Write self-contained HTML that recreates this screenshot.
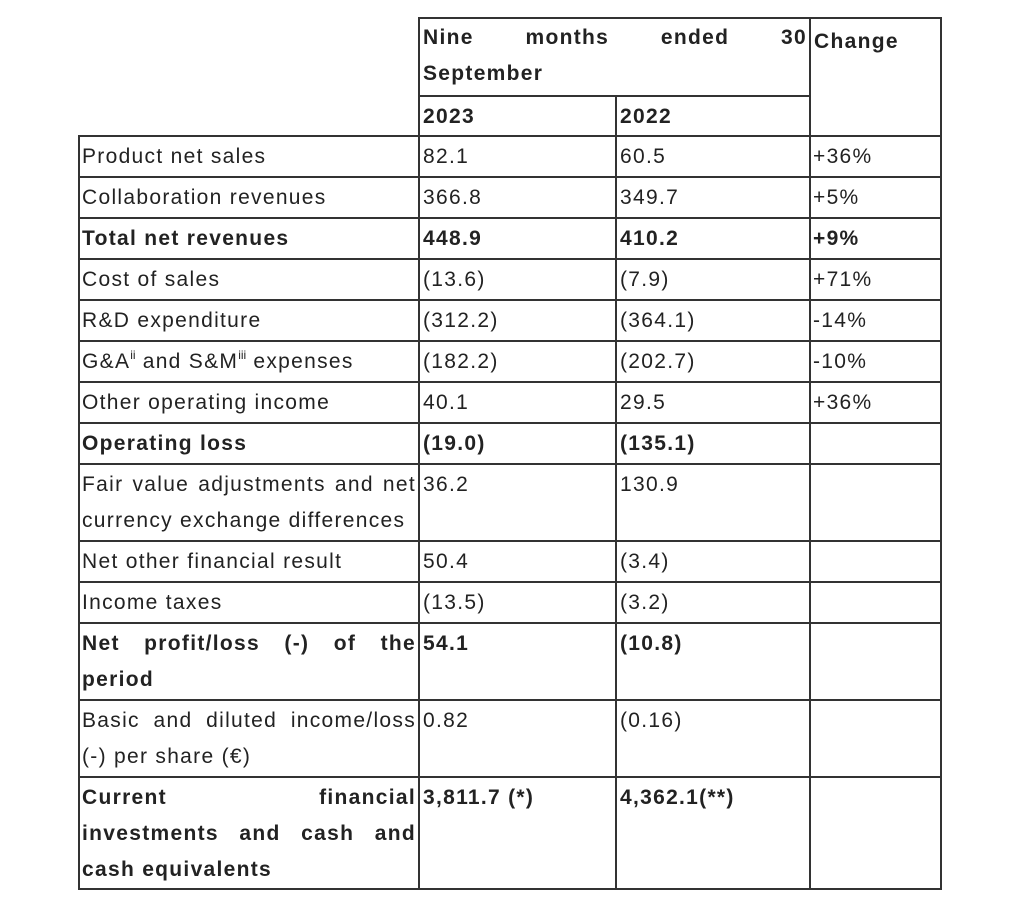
<!DOCTYPE html>
<html><head><meta charset="utf-8"><style>
html,body{margin:0;padding:0;background:#fff;width:1020px;height:912px;overflow:hidden}
body{position:relative;font-family:"Liberation Sans",Arial,sans-serif;font-size:21px;color:#222;letter-spacing:1.3px}
.l{position:absolute;background:#333}
.c{position:absolute;line-height:36px;box-sizing:border-box;padding-top:4px;white-space:nowrap}
.j{text-align:justify;text-align-last:justify;white-space:normal}
.b{font-weight:bold}
sup{font-size:12px;line-height:0;vertical-align:9px;letter-spacing:0}
</style></head><body>
<div class="l" style="left:78px;top:135px;width:2px;height:755px"></div>
<div class="l" style="left:418px;top:17px;width:2px;height:873px"></div>
<div class="l" style="left:615px;top:95px;width:2px;height:795px"></div>
<div class="l" style="left:809px;top:17px;width:2px;height:873px"></div>
<div class="l" style="left:940px;top:17px;width:2px;height:873px"></div>
<div class="l" style="left:418px;top:17px;width:524px;height:2px"></div>
<div class="l" style="left:418px;top:95px;width:393px;height:2px"></div>
<div class="l" style="left:78px;top:135px;width:864px;height:2px"></div>
<div class="l" style="left:78px;top:176px;width:864px;height:2px"></div>
<div class="l" style="left:78px;top:217px;width:864px;height:2px"></div>
<div class="l" style="left:78px;top:258px;width:864px;height:2px"></div>
<div class="l" style="left:78px;top:299px;width:864px;height:2px"></div>
<div class="l" style="left:78px;top:340px;width:864px;height:2px"></div>
<div class="l" style="left:78px;top:381px;width:864px;height:2px"></div>
<div class="l" style="left:78px;top:422px;width:864px;height:2px"></div>
<div class="l" style="left:78px;top:463px;width:864px;height:2px"></div>
<div class="l" style="left:78px;top:540px;width:864px;height:2px"></div>
<div class="l" style="left:78px;top:581px;width:864px;height:2px"></div>
<div class="l" style="left:78px;top:622px;width:864px;height:2px"></div>
<div class="l" style="left:78px;top:699px;width:864px;height:2px"></div>
<div class="l" style="left:78px;top:776px;width:864px;height:2px"></div>
<div class="l" style="left:78px;top:888px;width:864px;height:2px"></div>

<div class="c b j" style="left:423px;top:16px;width:384px">Nine months ended 30</div>
<div class="c b" style="left:423px;top:52px">September</div>
<div class="c b" style="left:814px;top:20px">Change</div>
<div class="c b" style="left:423px;top:95px">2023</div>
<div class="c b" style="left:620px;top:95px">2022</div>

<div class="c" style="left:82px;top:135px">Product net sales</div>
<div class="c" style="left:423px;top:135px">82.1</div>
<div class="c" style="left:620px;top:135px">60.5</div>
<div class="c" style="left:813px;top:135px">+36%</div>

<div class="c" style="left:82px;top:176px">Collaboration revenues</div>
<div class="c" style="left:423px;top:176px">366.8</div>
<div class="c" style="left:620px;top:176px">349.7</div>
<div class="c" style="left:813px;top:176px">+5%</div>

<div class="c b" style="left:82px;top:217px">Total net revenues</div>
<div class="c b" style="left:423px;top:217px">448.9</div>
<div class="c b" style="left:620px;top:217px">410.2</div>
<div class="c b" style="left:813px;top:217px">+9%</div>

<div class="c" style="left:82px;top:258px">Cost of sales</div>
<div class="c" style="left:423px;top:258px">(13.6)</div>
<div class="c" style="left:620px;top:258px">(7.9)</div>
<div class="c" style="left:813px;top:258px">+71%</div>

<div class="c" style="left:82px;top:299px">R&amp;D expenditure</div>
<div class="c" style="left:423px;top:299px">(312.2)</div>
<div class="c" style="left:620px;top:299px">(364.1)</div>
<div class="c" style="left:813px;top:299px">-14%</div>

<div class="c" style="left:82px;top:340px">G&amp;A<sup>ii</sup> and S&amp;M<sup>iii</sup> expenses</div>
<div class="c" style="left:423px;top:340px">(182.2)</div>
<div class="c" style="left:620px;top:340px">(202.7)</div>
<div class="c" style="left:813px;top:340px">-10%</div>

<div class="c" style="left:82px;top:381px">Other operating income</div>
<div class="c" style="left:423px;top:381px">40.1</div>
<div class="c" style="left:620px;top:381px">29.5</div>
<div class="c" style="left:813px;top:381px">+36%</div>

<div class="c b" style="left:82px;top:422px">Operating loss</div>
<div class="c b" style="left:423px;top:422px">(19.0)</div>
<div class="c b" style="left:620px;top:422px">(135.1)</div>

<div class="c j" style="left:82px;top:463px;width:334px">Fair value adjustments and net</div>
<div class="c" style="left:82px;top:499px">currency exchange differences</div>
<div class="c" style="left:423px;top:463px">36.2</div>
<div class="c" style="left:620px;top:463px">130.9</div>

<div class="c" style="left:82px;top:540px">Net other financial result</div>
<div class="c" style="left:423px;top:540px">50.4</div>
<div class="c" style="left:620px;top:540px">(3.4)</div>

<div class="c" style="left:82px;top:581px">Income taxes</div>
<div class="c" style="left:423px;top:581px">(13.5)</div>
<div class="c" style="left:620px;top:581px">(3.2)</div>

<div class="c b j" style="left:82px;top:622px;width:334px">Net profit/loss (-) of the</div>
<div class="c b" style="left:82px;top:658px">period</div>
<div class="c b" style="left:423px;top:622px">54.1</div>
<div class="c b" style="left:620px;top:622px">(10.8)</div>

<div class="c j" style="left:82px;top:699px;width:334px">Basic and diluted income/loss</div>
<div class="c" style="left:82px;top:735px">(-) per share (€)</div>
<div class="c" style="left:423px;top:699px">0.82</div>
<div class="c" style="left:620px;top:699px">(0.16)</div>

<div class="c b j" style="left:82px;top:776px;width:334px">Current financial</div>
<div class="c b j" style="left:82px;top:812px;width:334px">investments and cash and</div>
<div class="c b" style="left:82px;top:848px">cash equivalents</div>
<div class="c b" style="left:423px;top:776px">3,811.7 (*)</div>
<div class="c b" style="left:620px;top:776px">4,362.1(**)</div>
</body></html>
